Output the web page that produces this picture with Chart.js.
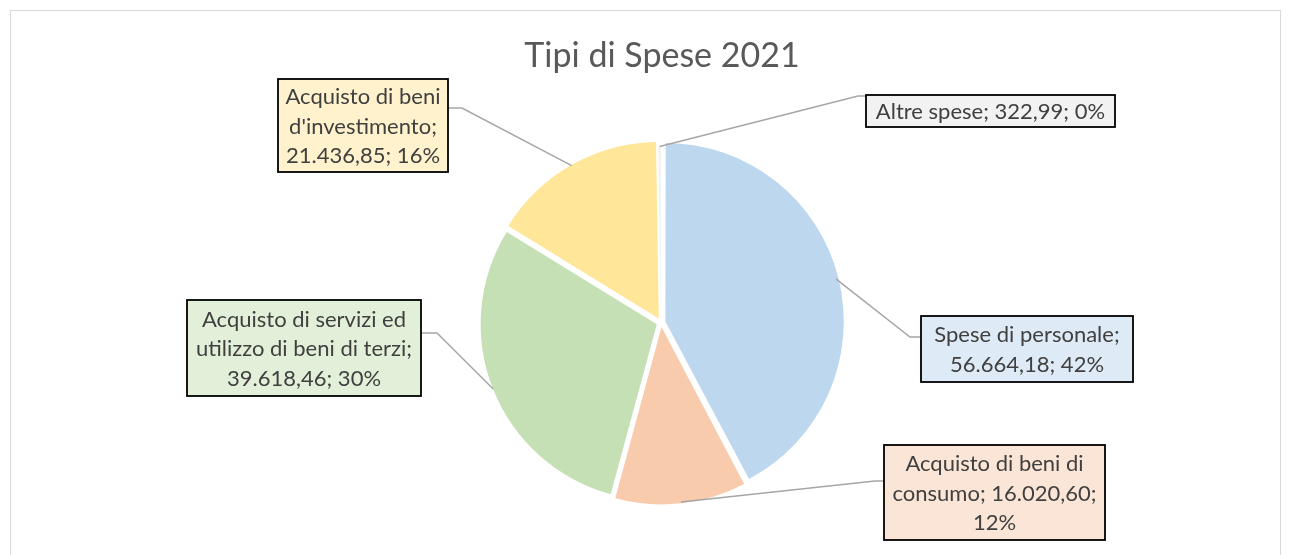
<!DOCTYPE html>
<html lang="it">
<head>
<meta charset="utf-8">
<title>Tipi di Spese 2021</title>
<script src="https://cdn.jsdelivr.net/npm/chart.js@4.4.1/dist/chart.umd.min.js"></script>
<style>
  html, body { margin: 0; padding: 0; background: #fff; overflow: hidden; }
  #frame {
    position: absolute; left: 10px; top: 10px;
    width: 1269px; height: 600px;
    border: 1px solid #d9d9d9;
  }
  #wrap { position: absolute; left: 0; top: 0; width: 1290px; height: 555px; }
</style>
</head>
<body>
<div id="frame"></div>
<div id="wrap"><canvas id="pie" width="1290" height="555"></canvas></div>
<script>
// Dati
const categories = [
  'Spese di personale',
  'Acquisto di beni di consumo',
  'Acquisto di servizi ed utilizzo di beni di terzi',
  "Acquisto di beni d'investimento",
  'Altre spese'
];
const amounts = [56664.18, 16020.60, 39618.46, 21436.85, 322.99];
const sliceColors = ['#BDD7EE', '#F8CBAD', '#C5E0B4', '#FFE699', '#F2F2F2'];
const boxColors = ['#DEEBF7', '#FBE5D6', '#E2F0D9', '#FFF2CC', '#F2F2F2'];

// Posizione dei riquadri etichetta (x, y, larghezza, altezza)
const labelBoxes = [
  { x: 921, y: 316, w: 212, h: 66, side: 'left' },
  { x: 884, y: 445, w: 221, h: 95, side: 'left' },
  { x: 187, y: 300, w: 234, h: 96, side: 'right' },
  { x: 278, y: 79, w: 170, h: 93, side: 'right' },
  { x: 866, y: 95, w: 249, h: 32, side: 'left' }
];
const elbows = [[910, 337], [875, 481], [437, 333], [462, 108], [858, 96]];

const FONT = '"Lato", "Carlito", "Open Sans", sans-serif';
const total = amounts.reduce((a, b) => a + b, 0);

function fmt(v) {
  return v.toLocaleString('it-IT', { minimumFractionDigits: 2, maximumFractionDigits: 2 });
}

function wrapText(ctx, text, maxW) {
  const words = text.split(' ');
  const lines = [];
  let cur = '';
  words.forEach(w => {
    const test = cur ? cur + ' ' + w : w;
    if (ctx.measureText(test).width > maxW && cur) {
      lines.push(cur);
      cur = w;
    } else {
      cur = test;
    }
  });
  if (cur) lines.push(cur);
  return lines;
}

const calloutPlugin = {
  id: 'callouts',
  afterDatasetsDraw(chart) {
    const ctx = chart.ctx;
    const arcs = chart.getDatasetMeta(0).data;

    // titolo
    ctx.save();
    ctx.fillStyle = '#595959';
    ctx.font = '34px ' + FONT;
    ctx.textAlign = 'center';
    ctx.textBaseline = 'alphabetic';
    ctx.fillText('Tipi di Spese 2021', 662, 67);
    ctx.restore();

    arcs.forEach((arc, i) => {
      const p = arc.getProps(['x', 'y', 'startAngle', 'endAngle', 'outerRadius'], true);
      const mid = (p.startAngle + p.endAngle) / 2;
      const off = (arc.options.offset || 0) / 4;
      const r = p.outerRadius + off;
      const sx = p.x + Math.cos(mid) * r;
      const sy = p.y + Math.sin(mid) * r;
      const b = labelBoxes[i];
      const [ex, ey] = elbows[i];
      const bx = b.side === 'left' ? b.x : b.x + b.w;

      // linea guida
      ctx.save();
      ctx.strokeStyle = '#A6A6A6';
      ctx.lineWidth = 1.5;
      ctx.beginPath();
      ctx.moveTo(sx, sy);
      ctx.lineTo(ex, ey);
      ctx.lineTo(bx, ey);
      ctx.stroke();
      ctx.restore();

      // riquadro
      ctx.save();
      ctx.fillStyle = boxColors[i];
      ctx.fillRect(b.x, b.y, b.w, b.h);
      ctx.strokeStyle = '#000';
      ctx.lineWidth = 1.8;
      ctx.strokeRect(b.x, b.y, b.w, b.h);

      const pct = Math.round(amounts[i] / total * 100);
      const text = categories[i] + '; ' + fmt(amounts[i]) + '; ' + pct + '%';
      ctx.font = '22px ' + FONT;
      ctx.fillStyle = '#404040';
      ctx.textAlign = 'center';
      ctx.textBaseline = 'middle';
      const lines = wrapText(ctx, text, b.w - 8);
      const lh = 29.5;
      const cy = b.y + b.h / 2 - (lines.length - 1) * lh / 2;
      lines.forEach((ln, k) => ctx.fillText(ln, b.x + b.w / 2, cy + k * lh + 1));
      ctx.restore();
    });
  }
};

new Chart(document.getElementById('pie'), {
  type: 'pie',
  data: {
    labels: categories,
    datasets: [{
      data: amounts,
      backgroundColor: sliceColors,
      borderColor: '#ffffff',
      borderWidth: 0,
      offset: [18, 18, 18, 18, 0],
      hoverOffset: 18,
      radius: 176
    }]
  },
  options: {
    responsive: false,
    animation: false,
    layout: { padding: { left: 32, right: 0, top: 90, bottom: 0 } },
    plugins: {
      legend: { display: false },
      tooltip: { enabled: false },
      title: { display: false }
    },
    events: []
  },
  plugins: [calloutPlugin]
});
</script>
</body>
</html>
